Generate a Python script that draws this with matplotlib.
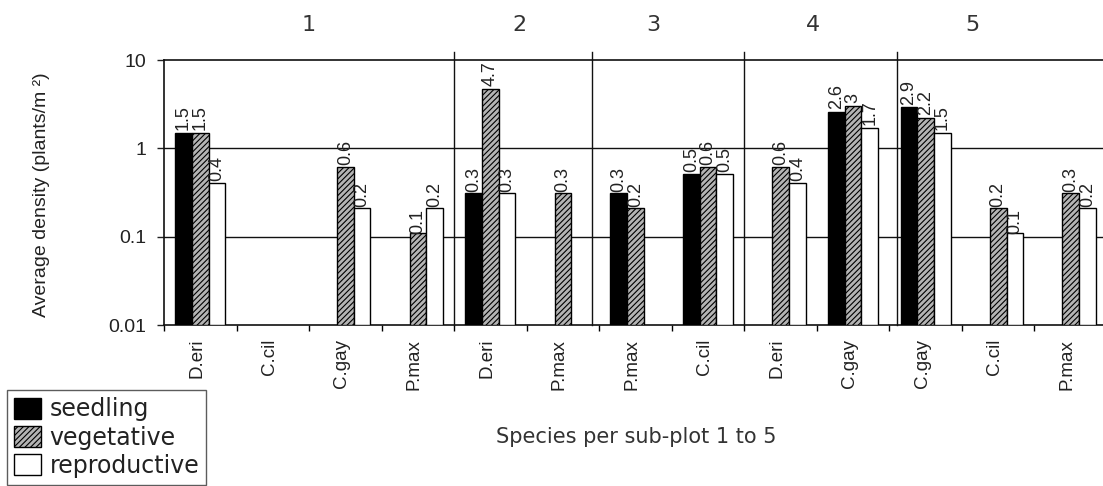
import numpy as np
import matplotlib
matplotlib.use("Agg")
import matplotlib.pyplot as plt
import matplotlib.transforms as mtransforms
from matplotlib.patches import Patch
from matplotlib.ticker import FixedLocator, NullFormatter, FixedFormatter, NullLocator

nan = np.nan
categories = ['D.eri', 'C.cil', 'C.gay', 'P.max', 'D.eri', 'P.max', 'P.max',
              'C.cil', 'D.eri', 'C.gay', 'C.gay', 'C.cil', 'P.max']
seedling = [1.5, nan, nan, nan, 0.3, nan, 0.3, 0.5, nan, 2.6, 2.9, nan, nan]
vegetative = [1.5, nan, 0.6, 0.1, 4.7, 0.3, 0.2, 0.6, 0.6, 3.0, 2.2, 0.2, 0.3]
reproductive = [0.4, nan, 0.2, 0.2, 0.3, nan, nan, 0.5, 0.4, 1.7, 1.5, 0.1, 0.2]
series_names = ['seedling', 'vegetative', 'reproductive']
group_labels = ['1', '2', '3', '4', '5']
y_ticks = [0.01, 0.1, 1, 10]
y_tick_labels = ['0.01', '0.1', '1', '10']

plt.rcParams['font.family'] = ['Liberation Sans', 'DejaVu Sans']
plt.rcParams['hatch.linewidth'] = 0.8

W, H = 1103, 486
fig = plt.figure(figsize=(W / 100, H / 100), dpi=100)
ax = fig.add_axes([164 / W, 1 - 325 / H, (1107 - 164) / W, (325 - 60) / H])

x = np.arange(len(categories))
bw = 0.23
styles = [dict(facecolor='black', edgecolor='black'),
          dict(facecolor='#b4b4b4', edgecolor='black', hatch='//////'),
          dict(facecolor='white', edgecolor='black')]
data = [seedling, vegetative, reproductive]
for i, (vals, st) in enumerate(zip(data, styles)):
    vals = np.array(vals, dtype=float)
    pos = x + (i - 1) * bw
    ax.bar(pos, vals, width=bw, bottom=0.01, linewidth=1.0, zorder=3, **st)
    for p, v in zip(pos, vals):
        if np.isfinite(v):
            ax.annotate(f"{v:g}", (p, v), xytext=(0, 2), textcoords='offset points',
                        rotation=90, ha='center', va='bottom', fontsize=13,
                        color='#222222', zorder=4)

ax.set_yscale('log')
ax.set_ylim(0.01, 10)
ax.set_xlim(-0.5, len(categories) - 0.5)
ax.yaxis.set_major_locator(FixedLocator(y_ticks))
ax.yaxis.set_major_formatter(FixedFormatter(y_tick_labels))
ax.yaxis.set_minor_locator(NullLocator())
ax.tick_params(axis='y', which='major', direction='out', length=5, width=1,
               labelsize=14, pad=8, colors='#222222')

# x ticks: boundaries as tick marks, labels at centres
ax.xaxis.set_major_locator(FixedLocator(np.arange(len(categories) + 1) - 0.5))
ax.xaxis.set_major_formatter(NullFormatter())
ax.xaxis.set_minor_locator(FixedLocator(x - 0.05))
ax.xaxis.set_minor_formatter(FixedFormatter(categories))
ax.tick_params(axis='x', which='major', direction='out', length=4, width=1)
ax.tick_params(axis='x', which='minor', length=0, labelsize=13.5, pad=10,
               labelrotation=90, colors='#222222')
for lab in ax.xaxis.get_minorticklabels():
    lab.set_va('top')

for s in ax.spines.values():
    s.set_linewidth(1.2)
    s.set_color('#111111')

for yv in [0.1, 1]:
    ax.axhline(yv, color='#111111', linewidth=1.0, zorder=1)

# group separators
for sx in [3.5, 5.4, 7.5, 9.6]:
    ax.plot([sx, sx], [0, 1.03], transform=ax.get_xaxis_transform(),
            color='#111111', linewidth=1.0, clip_on=False, zorder=2)

gtrans = mtransforms.blended_transform_factory(ax.transData, fig.transFigure)
for gx, gl in zip([1.5, 4.4, 6.25, 8.45, 10.65], group_labels):
    ax.text(gx, 1 - 25 / H, gl, transform=gtrans,
            ha='center', va='center', fontsize=16, color='#333333',
            family=['DejaVu Sans'])

fig.text(42 / W, 1 - 195 / H, 'Average density (plants/m ²)', rotation=90,
         ha='center', va='center', fontsize=14, color='#222222')
fig.text(636 / W, 1 - 437 / H, 'Species per sub-plot 1 to 5', ha='center',
         va='center', fontsize=15, color='#333333', family=['DejaVu Sans'])

handles = [Patch(**st, linewidth=1.0) for st in styles]
leg = fig.legend(handles, series_names, loc='lower left',
                 bbox_to_anchor=(7 / W, 1 / H), frameon=True, fancybox=False,
                 edgecolor='#333333', handlelength=1.15,
                 handleheight=1.0, handletextpad=0.35, labelspacing=0.18,
                 borderpad=0.3, borderaxespad=0,
                 prop={'family': ['DejaVu Sans'], 'size': 17})
leg.get_frame().set_linewidth(1.0)
for t in leg.get_texts():
    t.set_color('#222222')

fig.savefig('out.png', dpi=100, facecolor='white')
